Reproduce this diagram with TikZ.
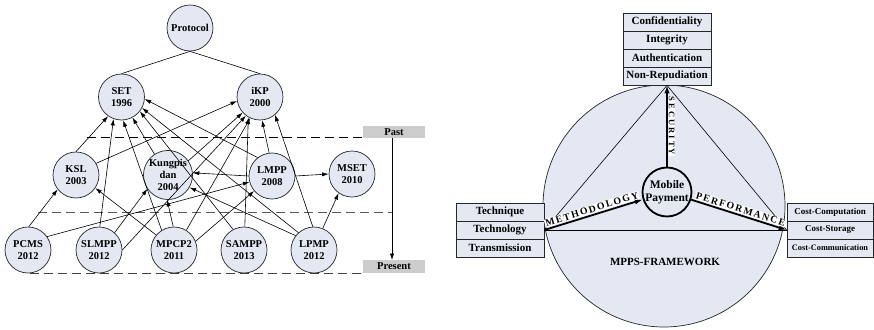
\documentclass[tikz,border=0pt]{standalone}
\usepackage{fontspec}
\setmainfont{Liberation Serif}
\newfontfamily\spacedA[LetterSpace=16]{Liberation Serif}
\newfontfamily\spacedB[LetterSpace=24]{Liberation Serif}
\usetikzlibrary{arrows.meta,calc}
\definecolor{nfill}{RGB}{228,232,243}
\definecolor{pgray}{RGB}{204,204,204}
\begin{document}
\begin{tikzpicture}[x=1pt,y=-1pt,
  pn/.style={circle, draw=black!85, line width=0.7pt, fill=nfill, minimum size=46pt, inner sep=0pt, align=center, font=\fontsize{10.5}{12}\selectfont\bfseries},
  ar/.style={-{Latex[length=6.5pt,width=4.2pt]}, line width=0.6pt},
  dl/.style={dash pattern=on 9pt off 5pt, line width=0.9pt},
  tb/.style={fill=pgray, minimum width=62pt, minimum height=12.5pt, inner sep=0pt, font=\fontsize{10.5}{12}\selectfont\bfseries},
  bx/.style={draw=black!85, line width=0.7pt, fill=nfill, minimum width=88pt, minimum height=18pt, inner sep=0pt, font=\fontsize{11}{12}\selectfont\bfseries},
  tk/.style={-{Latex[length=8pt,width=5.5pt]}, line width=1.8pt},
  lab/.style={fill=white, inner sep=0.8pt}
]
\useasboundingbox (0,0) rectangle (874,329);

% ---------- left: protocol graph ----------
\draw[dl] (87,137.5) -- (363,137.5);
\draw[dl, black!65] (38,212) -- (392,212);
\draw[dl, black!75] (30,273) -- (363,273);

\node[tb] (past) at (394,132) {Past};
\node[tb] (pres) at (394,266.5) {Present};
\draw[ar] ([xshift=-2pt]past.south) -- ([xshift=-2pt]pres.north);

\node[pn] (Pr) at (190,28) {Protocol};
\node[pn] (SET) at (121.5,97) {SET\\1996};
\node[pn] (iKP) at (260,97) {iKP\\2000};
\node[pn] (KSL) at (76,175) {KSL\\2003};
\node[pn] (Kung) at (168,175) {Kungpis\\dan\\2004};
\node[pn] (LMPP) at (272,176) {LMPP\\2008};
\node[pn] (MSET) at (352,174) {MSET\\2010};
\node[pn] (PCMS) at (28,250) {PCMS\\2012};
\node[pn] (SLMPP) at (99,250) {SLMPP\\2012};
\node[pn] (MPCP) at (174,250) {MPCP2\\2011};
\node[pn] (SAMPP) at (244,250) {SAMPP\\2013};
\node[pn] (LPMP) at (314,250) {LPMP\\2012};

\draw[line width=0.6pt] (Pr.south) -- (SET.north);
\draw[line width=0.6pt] (Pr.south) -- (iKP.north);

\draw[ar] (KSL.north) -- (SET.235);
\draw[ar] (KSL.30) -- (iKP.190);
\draw[ar] (SLMPP.88) -- (SET.250);
\draw[ar] (SLMPP.0) -- (iKP.233);
\draw[ar] (SLMPP.48) -- (Kung.214);
\draw[ar] (MPCP.122) -- (SET.274);
\draw[ar] (MPCP.140) -- (KSL.326);
\draw[ar] (MPCP.92) -- (Kung.268);
\draw[ar] (MPCP.58) -- (iKP.245);
\draw[ar] (MPCP.22) -- (LMPP.220);
\draw[ar] (Kung.123) -- (SET.298);
\draw[ar] (Kung.35) -- (iKP.222);
\draw[ar] (SAMPP.118) -- (SET.322);
\draw[ar] (SAMPP.88) -- (iKP.240);
\draw[ar] (LPMP.132) -- (SET.332);
\draw[ar] (LPMP.93) -- (iKP.310);
\draw[ar] (LPMP.142) -- (Kung.330);
\draw[ar] (LPMP.68) -- (MSET.235);
\draw[ar] (LMPP.128) -- (SET.355);
\draw[ar] (LMPP.97) -- (iKP.275);
\draw[ar] (LMPP.180) -- (Kung.5);
\draw[ar] (LMPP.0) -- (MSET.180);
\draw[ar] (PCMS.88) -- (KSL.218);
\draw[ar] (PCMS.35) -- (LMPP.195);

% ---------- right: MPPS framework ----------
\node[circle, draw=black!85, line width=0.7pt, fill=nfill, minimum size=242pt, inner sep=0pt] (BC) at (664,206) {};
\node[font=\fontsize{11}{12}\selectfont\bfseries] (fw) at (665,262) {MPPS-FRAMEWORK};

\node[bx] (conf) at (667,22) {Confidentiality};
\node[bx] (integ) at (667,40) {Integrity};
\node[bx] (auth) at (667,58) {Authentication};
\node[bx] (nonrep) at (667,76) {Non-Repudiation};

\node[bx] (tq) at (500,212) {Technique};
\node[bx] (tl) at (500,230) {Technology};
\node[bx] (tr) at (500,248) {Transmission};

\node[bx, minimum width=86pt, font=\fontsize{9}{10}\selectfont\bfseries] (cc) at (830,212) {Cost-Computation};
\node[bx, minimum width=86pt, font=\fontsize{9}{10}\selectfont\bfseries] (cs) at (830,230) {Cost-Storage};
\node[bx, minimum width=86pt, font=\fontsize{8.3}{10}\selectfont\bfseries] (cm) at (830,248) {Cost-Communication};

\draw[line width=0.6pt] (nonrep.south) -- (tl.east);
\draw[line width=0.6pt] (nonrep.south) -- (cs.west);
\draw[line width=0.6pt] (tl.east) -- (cs.west);

\node[circle, draw=black, line width=1.8pt, fill=nfill, minimum size=47pt, inner sep=0pt, align=center, font=\fontsize{11.5}{12.5}\selectfont\bfseries] (MP) at (667,192) {Mobile\\Payment};

\draw[tk] (MP.north) -- node[pos=0.5, rotate=-90, anchor=south, lab, font=\fontsize{8.5}{9}\selectfont\spacedB\bfseries] {SECURITY} (nonrep.south);
\draw[tk] (tl.east) -- node[pos=0.5, sloped, above=0.8pt, lab, font=\fontsize{9.8}{10}\selectfont\spacedA\bfseries] {METHODOLOGY} (MP);
\draw[tk] (MP) -- node[pos=0.5, sloped, above=0.8pt, lab, font=\fontsize{9.8}{10}\selectfont\spacedA\bfseries] {PERFORMANCE} (cs.west);
\end{tikzpicture}
\end{document}
